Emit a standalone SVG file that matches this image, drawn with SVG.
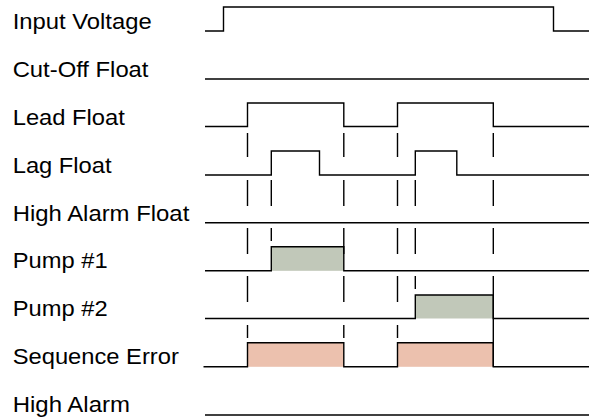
<svg xmlns="http://www.w3.org/2000/svg" width="592" height="417" viewBox="0 0 592 417">
<style>
text{font-family:"Liberation Sans",Arial,Helvetica,sans-serif;font-size:21.6px;fill:#000}
.sig{fill:none;stroke:#000;stroke-width:1.4;stroke-linejoin:miter}
.dash{stroke:#000;stroke-width:1.4;fill:none}
.g{fill:#c1c8b9}
.r{fill:#ecc1ae}
</style>
<rect width="592" height="417" fill="#fff"/>
<g id="input-voltage">
<text x="12.7" y="29" textLength="139" lengthAdjust="spacingAndGlyphs">Input Voltage</text>
<polyline class="sig" points="205,31 223.5,31 223.5,7 553.5,7 553.5,31 589,31"/>
</g>
<g id="cut-off-float">
<text x="12.7" y="76.9" textLength="135.8" lengthAdjust="spacingAndGlyphs">Cut-Off Float</text>
<polyline class="sig" points="205,79 589,79"/>
</g>
<g id="lead-float">
<text x="12.7" y="124.7" textLength="112.1" lengthAdjust="spacingAndGlyphs">Lead Float</text>
<polyline class="sig" points="205,126.5 247.5,126.5 247.5,103 343.8,103 343.8,126.5 397.5,126.5 397.5,103 493.3,103 493.3,126.5 589,126.5"/>
</g>
<g id="lag-float">
<text x="12.7" y="172.6" textLength="98.9" lengthAdjust="spacingAndGlyphs">Lag Float</text>
<polyline class="sig" points="205,175 271.3,175 271.3,151 319.5,151 319.5,175 415.3,175 415.3,151 456.8,151 456.8,175 589,175"/>
</g>
<g id="high-alarm-float">
<text x="12.7" y="220.8" textLength="176.6" lengthAdjust="spacingAndGlyphs">High Alarm Float</text>
<polyline class="sig" points="205,222.8 589,222.8"/>
</g>
<g id="pump-1">
<text x="12.7" y="268.3" textLength="94.9" lengthAdjust="spacingAndGlyphs">Pump #1</text>
<rect class="g" x="271.3" y="246.8" width="72.5" height="24"/>
<polyline class="sig" points="205,270.8 271.3,270.8 271.3,246.8 343.8,246.8 343.8,270.8 589,270.8"/>
</g>
<g id="pump-2">
<text x="12.7" y="316.1" textLength="94.9" lengthAdjust="spacingAndGlyphs">Pump #2</text>
<rect class="g" x="415.3" y="295" width="78" height="23.5"/>
<polyline class="sig" points="205,318.5 415.3,318.5 415.3,295 493.3,295 493.3,318.5 589,318.5"/>
</g>
<g id="sequence-error">
<text x="12.7" y="364" textLength="166.1" lengthAdjust="spacingAndGlyphs">Sequence Error</text>
<rect class="r" x="247.5" y="342.8" width="96.3" height="24"/>
<rect class="r" x="397.5" y="342.8" width="95.8" height="24"/>
<polyline class="sig" points="203.5,366.8 247.5,366.8 247.5,342.8 343.8,342.8 343.8,366.8 397.5,366.8 397.5,342.8 493.3,342.8 493.3,366.8 589,366.8"/>
</g>
<g id="high-alarm">
<text x="12.7" y="411.8" textLength="117.3" lengthAdjust="spacingAndGlyphs">High Alarm</text>
<polyline class="sig" points="205,415 589,415"/>
</g>
<g id="connectors">
<path class="dash" d="M247.5,133V157M343.8,133V157M397.5,133V157M493.3,133V157
M247.5,180V206M271.3,180V206M343.8,180V206M397.5,180V206M415.3,180V206M493.3,180V206
M247.5,228V254M271.3,228V241M343.8,228V254M397.5,228V254M415.3,228V254M493.3,228V254
M247.5,276V302M343.8,276V302M397.5,276V302M415.3,276V289M493.3,276V366.8
M247.5,325V338M343.8,325V338M397.5,325V338"/>
</g>
</svg>
